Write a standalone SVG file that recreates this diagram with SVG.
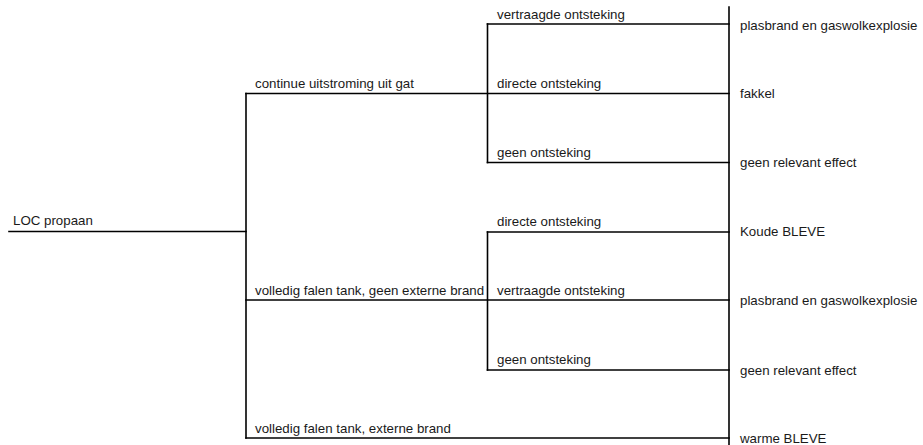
<svg xmlns="http://www.w3.org/2000/svg" width="923" height="445" viewBox="0 0 923 445">
<style>
text{font-family:"Liberation Sans",Arial,sans-serif;font-size:13.3px;fill:#1a1a1a}
.c line{stroke:#000;stroke-width:1.6;stroke-linecap:square}
</style>
<rect width="923" height="445" fill="#fff"/>
<g class="c" id="connectors">
<line x1="9" y1="231.5" x2="246" y2="231.5"/>
<line x1="246" y1="93.5" x2="246" y2="438"/>
<line x1="246" y1="93.5" x2="729" y2="93.5"/>
<line x1="246" y1="300" x2="729" y2="300"/>
<line x1="246" y1="438" x2="729" y2="438"/>
<line x1="487.5" y1="24" x2="487.5" y2="162.5"/>
<line x1="487.5" y1="24" x2="729" y2="24"/>
<line x1="487.5" y1="162.5" x2="729" y2="162.5"/>
<line x1="487.5" y1="232" x2="487.5" y2="370"/>
<line x1="487.5" y1="232" x2="729" y2="232"/>
<line x1="487.5" y1="370" x2="729" y2="370"/>
<line x1="729" y1="7" x2="729" y2="445"/>
</g>
<g id="root"><text x="13" y="225">LOC propaan</text></g>
<g id="b1"><text x="255" y="88">continue uitstroming uit gat</text></g>
<g id="b2"><text x="255" y="295">volledig falen tank, geen externe brand</text></g>
<g id="b3"><text x="255" y="433">volledig falen tank, externe brand</text></g>
<g id="b1a"><text x="497" y="19">vertraagde ontsteking</text></g>
<g id="b1b"><text x="497" y="88">directe ontsteking</text></g>
<g id="b1c"><text x="497" y="157">geen ontsteking</text></g>
<g id="b2a"><text x="497" y="226">directe ontsteking</text></g>
<g id="b2b"><text x="497" y="295">vertraagde ontsteking</text></g>
<g id="b2c"><text x="497" y="364">geen ontsteking</text></g>
<g id="o1"><text x="740" y="30">plasbrand en gaswolkexplosie</text></g>
<g id="o2"><text x="740" y="98">fakkel</text></g>
<g id="o3"><text x="740" y="167">geen relevant effect</text></g>
<g id="o4"><text x="740" y="236">Koude BLEVE</text></g>
<g id="o5"><text x="740" y="305">plasbrand en gaswolkexplosie</text></g>
<g id="o6"><text x="740" y="375">geen relevant effect</text></g>
<g id="o7"><text x="740" y="443">warme BLEVE</text></g>
</svg>
